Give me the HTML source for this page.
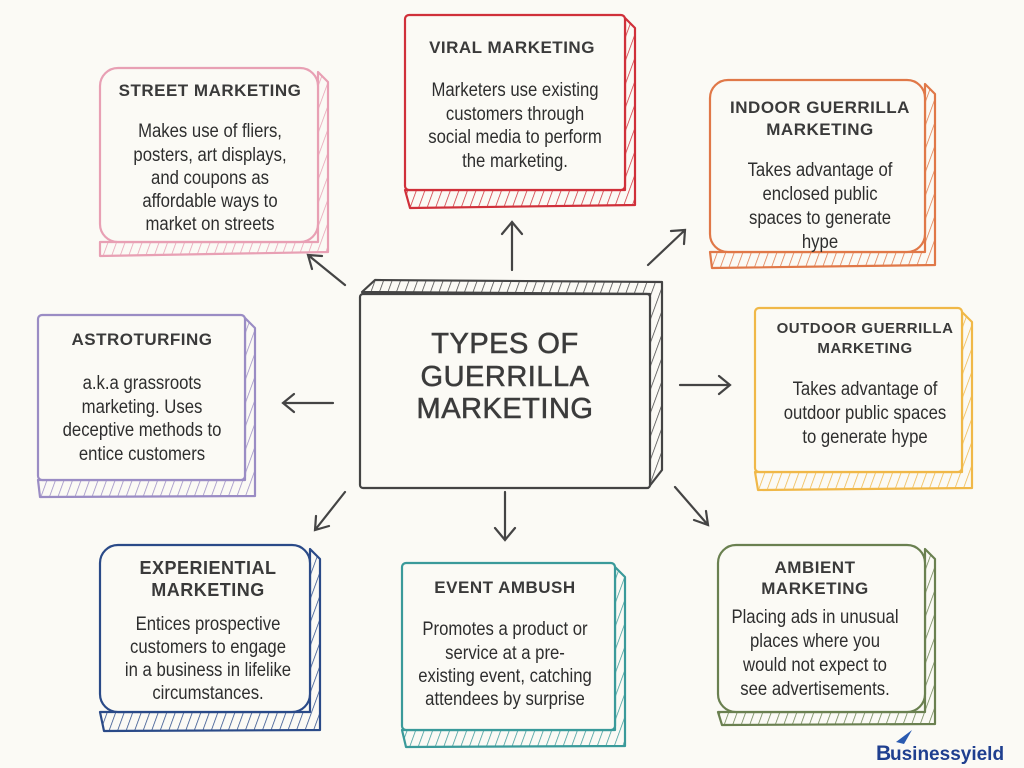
<!DOCTYPE html>
<html><head><meta charset="utf-8"><style>
html,body{margin:0;padding:0;background:#fbfaf5;}
svg{display:block}
.h{font-family:"Liberation Sans",sans-serif;font-weight:bold;fill:#3a3a3a;text-anchor:middle;letter-spacing:0.5px}
.b{font-family:"Liberation Sans",sans-serif;fill:#2e2e2e;text-anchor:middle;font-size:19px}
</style></head><body>
<svg width="1024" height="768" viewBox="0 0 1024 768" xmlns="http://www.w3.org/2000/svg">
<defs>
<pattern id="pk" width="8" height="8" patternUnits="userSpaceOnUse" patternTransform="rotate(20)"><line x1="0" y1="0" x2="0" y2="8" stroke="#e8a0b4" stroke-width="1.5"/></pattern>
<pattern id="rd" width="8" height="8" patternUnits="userSpaceOnUse" patternTransform="rotate(20)"><line x1="0" y1="0" x2="0" y2="8" stroke="#d0303a" stroke-width="1.5"/></pattern>
<pattern id="or" width="8" height="8" patternUnits="userSpaceOnUse" patternTransform="rotate(20)"><line x1="0" y1="0" x2="0" y2="8" stroke="#e07848" stroke-width="1.5"/></pattern>
<pattern id="pu" width="8" height="8" patternUnits="userSpaceOnUse" patternTransform="rotate(20)"><line x1="0" y1="0" x2="0" y2="8" stroke="#9a8cc4" stroke-width="1.5"/></pattern>
<pattern id="dk" width="8" height="8" patternUnits="userSpaceOnUse" patternTransform="rotate(20)"><line x1="0" y1="0" x2="0" y2="8" stroke="#444" stroke-width="1.5"/></pattern>
<pattern id="ye" width="8" height="8" patternUnits="userSpaceOnUse" patternTransform="rotate(20)"><line x1="0" y1="0" x2="0" y2="8" stroke="#f0b848" stroke-width="1.5"/></pattern>
<pattern id="nv" width="8" height="8" patternUnits="userSpaceOnUse" patternTransform="rotate(20)"><line x1="0" y1="0" x2="0" y2="8" stroke="#2a4a88" stroke-width="1.5"/></pattern>
<pattern id="tl" width="8" height="8" patternUnits="userSpaceOnUse" patternTransform="rotate(20)"><line x1="0" y1="0" x2="0" y2="8" stroke="#3a9a9a" stroke-width="1.5"/></pattern>
<pattern id="gr" width="8" height="8" patternUnits="userSpaceOnUse" patternTransform="rotate(20)"><line x1="0" y1="0" x2="0" y2="8" stroke="#6a8050" stroke-width="1.5"/></pattern>
</defs>
<g stroke-width="2.2" stroke-linejoin="round">
<path d="M318,72 L328,82 L328,252 L100,256 L100,242 L318,242 Z" fill="url(#pk)" stroke="#e8a0b4"/>
<rect x="100" y="68" width="218" height="174" rx="18" fill="#fbfaf5" stroke="#e8a0b4"/>
<path d="M625,18 L635,28 L635,205 L410,208 L405,190 L625,190 Z" fill="url(#rd)" stroke="#d0303a"/>
<rect x="405" y="15" width="220" height="175" rx="4" fill="#fbfaf5" stroke="#d0303a"/>
<path d="M925,84 L935,94 L935,265 L712,268 L710,252 L925,252 Z" fill="url(#or)" stroke="#e07848"/>
<rect x="710" y="80" width="215" height="172" rx="18" fill="#fbfaf5" stroke="#e07848"/>
<path d="M245,318 L255,328 L255,496 L40,497 L38,480 L245,480 Z" fill="url(#pu)" stroke="#9a8cc4"/>
<rect x="38" y="315" width="207" height="165" rx="4" fill="#fbfaf5" stroke="#9a8cc4"/>
<path d="M362,292 L375,280 L662,282 L662,470 L648,488 L650,294 Z" fill="url(#dk)" stroke="#444"/>
<rect x="360" y="294" width="290" height="194" rx="3" fill="#fbfaf5" stroke="#444"/>
<path d="M962,312 L972,322 L972,488 L758,490 L755,472 L962,472 Z" fill="url(#ye)" stroke="#f0b848"/>
<rect x="755" y="308" width="207" height="164" rx="4" fill="#fbfaf5" stroke="#f0b848"/>
<path d="M310,549 L320,559 L320,730 L104,731 L100,712 L310,712 Z" fill="url(#nv)" stroke="#2a4a88"/>
<rect x="100" y="545" width="210" height="167" rx="18" fill="#fbfaf5" stroke="#2a4a88"/>
<path d="M615,567 L625,577 L625,746 L406,747 L402,730 L615,730 Z" fill="url(#tl)" stroke="#3a9a9a"/>
<rect x="402" y="563" width="213" height="167" rx="4" fill="#fbfaf5" stroke="#3a9a9a"/>
<path d="M925,549 L935,559 L935,724 L722,725 L718,712 L925,712 Z" fill="url(#gr)" stroke="#6a8050"/>
<rect x="718" y="545" width="207" height="167" rx="18" fill="#fbfaf5" stroke="#6a8050"/>
</g>
<g stroke="#444" stroke-width="2.2" fill="none" stroke-linecap="round">
<path d="M512,270 L512,222 M502,234 L512,222 L522,234"/>
<path d="M648,265 L685,230 M671,231 L685,230 L684,244"/>
<path d="M680,385 L730,385 M719,376 L730,385 L719,394"/>
<path d="M675,487 L708,525 M706,511 L708,525 L694,520"/>
<path d="M505,492 L505,540 M495,528 L505,540 L515,528"/>
<path d="M345,492 L315,530 M316,516 L315,530 L329,526"/>
<path d="M333,403 L283,403 M294,394 L283,403 L294,412"/>
<path d="M345,285 L308,255 M322,256 L308,255 L312,269"/>
</g>
<text class="h" x="210" y="96" font-size="17">STREET MARKETING</text>
<text class="h" x="512" y="53" font-size="17">VIRAL MARKETING</text>
<text class="h" x="820" y="113" font-size="17">INDOOR GUERRILLA</text>
<text class="h" x="820" y="135" font-size="17">MARKETING</text>
<text class="h" x="142" y="345" font-size="17">ASTROTURFING</text>
<text class="h" x="505" y="353" font-size="29" fill="#444" style="font-weight:normal;stroke:#444;stroke-width:0.6">TYPES OF</text>
<text class="h" x="505" y="386" font-size="29" fill="#444" style="font-weight:normal;stroke:#444;stroke-width:0.6">GUERRILLA</text>
<text class="h" x="505" y="418" font-size="29" fill="#444" style="font-weight:normal;stroke:#444;stroke-width:0.6">MARKETING</text>
<text class="h" x="865" y="333" font-size="15">OUTDOOR GUERRILLA</text>
<text class="h" x="865" y="353" font-size="15">MARKETING</text>
<text class="h" x="208" y="574" font-size="18">EXPERIENTIAL</text>
<text class="h" x="208" y="596" font-size="18">MARKETING</text>
<text class="h" x="505" y="593" font-size="17">EVENT AMBUSH</text>
<text class="h" x="815" y="573" font-size="17">AMBIENT</text>
<text class="h" x="815" y="594" font-size="17">MARKETING</text>
<g transform="translate(210,0) scale(0.88,1)"><text class="b" y="137"><tspan x="0">Makes use of fliers,</tspan><tspan x="0" y="161">posters, art displays,</tspan><tspan x="0" y="184">and coupons as</tspan><tspan x="0" y="207">affordable ways to</tspan><tspan x="0" y="230">market on streets</tspan></text></g>
<g transform="translate(515,0) scale(0.88,1)"><text class="b" y="96"><tspan x="0">Marketers use existing</tspan><tspan x="0" y="120">customers through</tspan><tspan x="0" y="143">social media to perform</tspan><tspan x="0" y="167">the marketing.</tspan></text></g>
<g transform="translate(820,0) scale(0.88,1)"><text class="b" y="176"><tspan x="0">Takes advantage of</tspan><tspan x="0" y="200">enclosed public</tspan><tspan x="0" y="224">spaces to generate</tspan><tspan x="0" y="248">hype</tspan></text></g>
<g transform="translate(142,0) scale(0.88,1)"><text class="b" y="389"><tspan x="0">a.k.a grassroots</tspan><tspan x="0" y="413">marketing. Uses</tspan><tspan x="0" y="436">deceptive methods to</tspan><tspan x="0" y="460">entice customers</tspan></text></g>
<g transform="translate(865,0) scale(0.88,1)"><text class="b" y="395"><tspan x="0">Takes advantage of</tspan><tspan x="0" y="419">outdoor public spaces</tspan><tspan x="0" y="443">to generate hype</tspan></text></g>
<g transform="translate(208,0) scale(0.88,1)"><text class="b" y="630"><tspan x="0">Entices prospective</tspan><tspan x="0" y="653">customers to engage</tspan><tspan x="0" y="676">in a business in lifelike</tspan><tspan x="0" y="699">circumstances.</tspan></text></g>
<g transform="translate(505,0) scale(0.88,1)"><text class="b" y="635"><tspan x="0">Promotes a product or</tspan><tspan x="0" y="659">service at a pre-</tspan><tspan x="0" y="682">existing event, catching</tspan><tspan x="0" y="705">attendees by surprise</tspan></text></g>
<g transform="translate(815,0) scale(0.88,1)"><text class="b" y="623"><tspan x="0">Placing ads in unusual</tspan><tspan x="0" y="647">places where you</tspan><tspan x="0" y="671">would not expect to</tspan><tspan x="0" y="695">see advertisements.</tspan></text></g>
<path d="M896,742 L912,730 L904,744 Z" fill="#2a5ab0"/>
<text x="876" y="760" font-family="Liberation Sans,sans-serif" font-weight="bold" font-size="21" fill="#1f3f8f">B</text>
<text x="890" y="760" font-family="Liberation Sans,sans-serif" font-weight="bold" font-size="19" fill="#1f3f8f">usinessyield</text>
</svg>
</body></html>
